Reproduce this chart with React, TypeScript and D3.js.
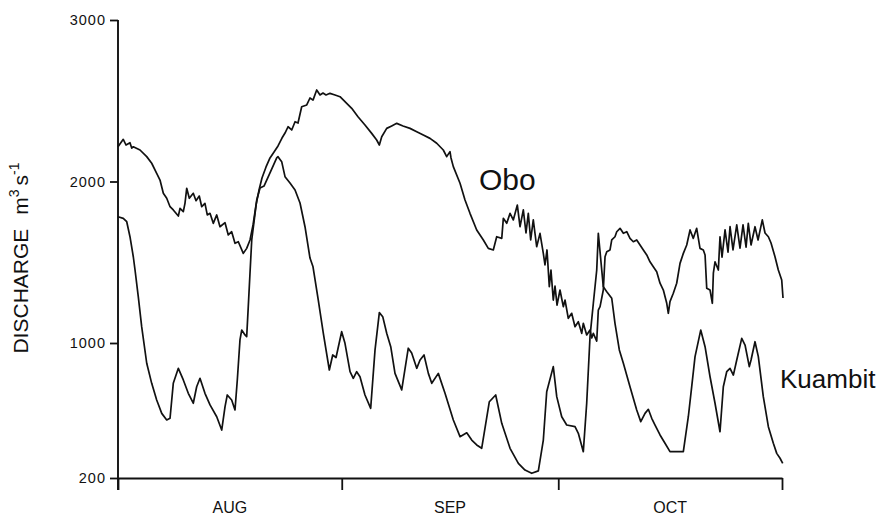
import React, { useEffect, useRef } from "react";
import * as d3 from "d3";

// [day since 1 Aug, discharge m3/s]
const obo: [number, number][] = [
  [0, 2215], [0.73, 2261], [1.11, 2226], [1.66, 2240], [1.9, 2207], [2.12, 2215],
  [3.05, 2195], [3.98, 2154], [4.67, 2113], [5.36, 2051], [5.82, 2009], [6.28, 1927],
  [6.75, 1896], [7.21, 1844], [7.66, 1824], [8.36, 1786], [8.59, 1834], [9.05, 1813],
  [9.28, 1865], [9.52, 1958], [9.88, 1896], [10.43, 1927], [10.81, 1881], [11.26, 1910],
  [11.6, 1844], [12.05, 1865], [12.37, 1793], [12.75, 1803], [13.2, 1741], [13.68, 1793],
  [14.13, 1720], [14.83, 1745], [15.28, 1669], [15.75, 1689], [16.21, 1617], [16.67, 1627],
  [17.36, 1555], [17.83, 1586], [18.29, 1638], [18.71, 1731], [19.12, 1854], [19.54, 1947],
  [19.95, 2022], [20.51, 2090], [21.06, 2146], [21.62, 2183], [22.17, 2220], [22.72, 2269],
  [23.14, 2300], [23.56, 2339], [24.07, 2319], [24.53, 2370], [24.94, 2362], [25.45, 2463],
  [26.15, 2474], [26.6, 2517], [27.02, 2504], [27.53, 2567], [27.99, 2536], [28.4, 2548],
  [28.82, 2536], [29.37, 2546], [30.07, 2536], [30.76, 2525], [31.69, 2484], [32.38, 2453],
  [33.25, 2401], [34.22, 2350], [35.15, 2298], [35.84, 2257], [36.21, 2226], [36.54, 2277],
  [37.23, 2329], [37.92, 2344], [38.62, 2360], [39.49, 2344], [40.46, 2329], [41.39, 2308],
  [42.3, 2288], [43.23, 2267], [44.16, 2237], [45.07, 2195], [45.54, 2154], [46.0, 2185],
  [46.14, 2146], [46.46, 2092], [47.39, 1989], [48.08, 1885], [48.77, 1803], [49.7, 1700],
  [50.62, 1638], [51.31, 1586], [52.0, 1576], [52.47, 1658], [53.17, 1648], [53.39, 1772],
  [53.86, 1741], [54.32, 1803], [54.77, 1762], [55.33, 1854], [55.7, 1720], [56.16, 1824],
  [56.53, 1681], [56.85, 1803], [57.18, 1638], [57.54, 1762], [58.01, 1596], [58.47, 1679],
  [58.93, 1555], [59.16, 1483], [59.44, 1576], [59.76, 1349], [59.99, 1452], [60.31, 1266],
  [60.55, 1353], [60.83, 1235], [61.24, 1328], [61.7, 1225], [61.94, 1266], [62.39, 1153],
  [62.86, 1184], [63.32, 1101], [63.78, 1132], [64.25, 1060], [64.47, 1122], [64.94, 1050],
  [65.4, 1080], [65.64, 1031], [65.86, 1060], [66.33, 1012], [66.55, 1204], [66.79, 1225],
  [67.24, 1328], [67.48, 1534], [67.72, 1565], [68.17, 1576], [68.41, 1638], [68.86, 1658],
  [69.1, 1689], [69.56, 1710], [70.02, 1679], [70.49, 1689], [70.94, 1648], [71.4, 1627],
  [71.87, 1638], [72.33, 1607], [72.79, 1576], [73.26, 1545], [73.71, 1503], [74.17, 1472],
  [74.64, 1441], [75.1, 1370], [75.56, 1328], [76.03, 1246], [76.25, 1184], [76.48, 1256],
  [76.94, 1308], [77.41, 1370], [77.87, 1493], [78.33, 1555], [78.8, 1607], [79.26, 1700],
  [79.71, 1648], [80.18, 1710], [80.64, 1586], [81.1, 1576], [81.34, 1545], [81.57, 1339],
  [82.03, 1328], [82.35, 1246], [82.49, 1432], [82.72, 1503], [83.18, 1452], [83.41, 1658],
  [83.69, 1532], [84.11, 1700], [84.52, 1563], [84.8, 1720], [85.21, 1576], [85.73, 1731],
  [86.18, 1588], [86.6, 1731], [87.02, 1594], [87.33, 1741], [87.71, 1607], [88.26, 1720],
  [88.68, 1638], [89.27, 1762], [89.65, 1681], [90.11, 1658], [90.48, 1619], [91.03, 1534],
  [91.49, 1452], [91.96, 1390], [92.14, 1279],
];

const kuambit: [number, number][] = [
  [0, 1782], [0.73, 1772], [1.21, 1751], [1.66, 1658], [2.12, 1534], [2.36, 1452],
  [2.81, 1287], [3.28, 1101], [3.98, 880], [4.67, 761], [5.36, 662], [6.06, 583],
  [6.75, 544], [7.21, 554], [7.66, 761], [8.36, 850], [9.05, 781], [9.74, 702],
  [10.43, 643], [10.9, 741], [11.36, 791], [12.05, 702], [12.75, 633], [13.68, 563],
  [14.37, 484], [14.83, 623], [15.14, 692], [15.75, 662], [16.21, 603], [16.53, 781],
  [16.9, 1019], [17.14, 1080], [17.6, 1050], [17.83, 1039], [18.05, 1225], [18.29, 1433],
  [18.53, 1638], [19.22, 1885], [19.68, 1960], [20.23, 1972], [21.06, 2053], [21.99, 2146],
  [22.17, 2154], [22.68, 2123], [23.14, 2030], [23.83, 1991], [24.53, 1947], [25.22, 1867],
  [25.91, 1720], [26.6, 1526], [27.02, 1472], [27.75, 1266], [28.45, 1060], [29.28, 840],
  [29.75, 929], [30.21, 914], [30.99, 1070], [31.45, 998], [32.15, 830], [32.6, 791],
  [33.07, 830], [33.53, 800], [34.22, 692], [35.01, 613], [35.61, 958], [36.21, 1188],
  [36.68, 1163], [37.23, 1060], [37.79, 978], [38.38, 820], [39.31, 722], [40.22, 969],
  [40.69, 941], [41.39, 850], [41.85, 899], [42.4, 929], [43.0, 820], [43.47, 761],
  [44.38, 820], [45.31, 702], [46.46, 544], [47.39, 445], [48.32, 468], [49.01, 425],
  [49.7, 396], [50.39, 376], [51.45, 652], [52.33, 692], [53.17, 524], [54.32, 376],
  [55.47, 287], [56.39, 247], [57.32, 228], [58.24, 242], [58.93, 425], [59.4, 711],
  [60.31, 860], [60.79, 682], [61.48, 563], [62.17, 514], [63.32, 504], [63.78, 465],
  [64.47, 356], [64.94, 643], [65.4, 1039], [65.86, 1246], [66.33, 1452], [66.55, 1679],
  [67.24, 1349], [67.72, 1318], [68.41, 1277], [68.86, 1122], [69.46, 959], [70.02, 880],
  [70.94, 741], [71.87, 603], [72.43, 534], [73.02, 583], [73.48, 607], [73.95, 554],
  [74.41, 514], [75.1, 455], [75.79, 406], [76.48, 356], [78.33, 356], [79.02, 563],
  [79.49, 741], [79.95, 919], [80.74, 1080], [81.34, 978], [82.03, 800], [82.72, 643],
  [83.41, 474], [83.87, 741], [84.34, 830], [84.8, 850], [85.26, 810], [85.73, 899],
  [86.42, 1029], [86.88, 988], [87.47, 860], [87.71, 899], [88.26, 1008], [88.72, 919],
  [89.41, 682], [90.11, 504], [90.8, 406], [91.27, 346], [91.73, 317], [92.1, 287],
];

const yTicks = [200, 1000, 2000, 3000];
const monthStarts = [0, 31, 61, 92];
const monthLabels = ["AUG", "SEP", "OCT"];

const FONT = "'Liberation Sans', Arial, Helvetica, sans-serif";

const App = () => {
  const svgRef = useRef<SVGSVGElement>(null);

  useEffect(() => {
    const width = 881;
    const height = 516;

    const svg = d3.select(svgRef.current).attr("width", width).attr("height", height);
    svg.selectAll("*").remove();

    const x = d3.scaleLinear().domain([0, 92]).range([118, 782]);
    const y = d3.scaleLinear().domain([200, 1000, 2000, 3000]).range([478, 343, 181.5, 20]);

    // y axis
    const yAxis = svg
      .append("g")
      .attr("transform", `translate(${x(0)},0)`)
      .call(
        d3
          .axisLeft(y)
          .tickValues(yTicks)
          .tickSize(8)
          .tickSizeOuter(0)
          .tickPadding(4)
          .tickFormat((d) => String(d))
      );
    yAxis.select(".domain").remove();
    yAxis.selectAll("line").attr("stroke", "#111").attr("stroke-width", 1.8);
    yAxis
      .selectAll("text")
      .attr("font-family", FONT)
      .attr("font-size", 14.5)
      .attr("letter-spacing", 1)
      .attr("fill", "#111");

    svg
      .append("line")
      .attr("x1", x(0))
      .attr("x2", x(0))
      .attr("y1", y(3000))
      .attr("y2", y(200) + 12)
      .attr("stroke", "#111")
      .attr("stroke-width", 1.9);

    // x axis
    const xAxis = svg
      .append("g")
      .attr("transform", `translate(0,${y(200)})`)
      .call(
        d3
          .axisBottom(x)
          .tickValues(monthStarts)
          .tickSize(12)
          .tickSizeOuter(0)
          .tickFormat(() => "")
      );
    xAxis.select(".domain").attr("stroke", "#111").attr("stroke-width", 1.9);
    xAxis.selectAll("line").attr("stroke", "#111").attr("stroke-width", 1.8);

    svg
      .append("g")
      .selectAll("text")
      .data(monthLabels)
      .enter()
      .append("text")
      .attr("x", (d, i) => x((monthStarts[i] + monthStarts[i + 1]) / 2))
      .attr("y", 513)
      .attr("text-anchor", "middle")
      .attr("font-family", FONT)
      .attr("font-size", 16)
      .attr("fill", "#111")
      .text((d) => d);

    // y title
    const title = svg
      .append("text")
      .attr("transform", "translate(28,258) rotate(-90)")
      .attr("text-anchor", "middle")
      .attr("font-family", FONT)
      .attr("font-size", 21)
      .attr("fill", "#111");
    title.append("tspan").text("DISCHARGE");
    title.append("tspan").attr("dx", 14).text("m");
    title.append("tspan").attr("dy", -9).attr("font-size", 14).text("3");
    title.append("tspan").attr("dy", 9).attr("dx", 4).text("s");
    title.append("tspan").attr("dy", -9).attr("font-size", 14).text("-1");

    // series
    const line = d3
      .line<[number, number]>()
      .x((d) => x(d[0]))
      .y((d) => y(d[1]));

    [obo, kuambit].forEach((s) => {
      svg
        .append("path")
        .datum(s)
        .attr("d", line)
        .attr("fill", "none")
        .attr("stroke", "#111")
        .attr("stroke-width", 1.7)
        .attr("stroke-linejoin", "round");
    });

    svg
      .append("text")
      .attr("x", 479)
      .attr("y", 190)
      .attr("font-family", FONT)
      .attr("font-size", 30)
      .attr("fill", "#111")
      .text("Obo");

    svg
      .append("text")
      .attr("x", 780)
      .attr("y", 388)
      .attr("font-family", FONT)
      .attr("font-size", 26)
      .attr("fill", "#111")
      .text("Kuambit");
  }, []);

  return (
    <svg
      ref={svgRef}
      style={{ position: "absolute", left: 0, top: 0, background: "#fff", display: "block" }}
    ></svg>
  );
};

export default App;
